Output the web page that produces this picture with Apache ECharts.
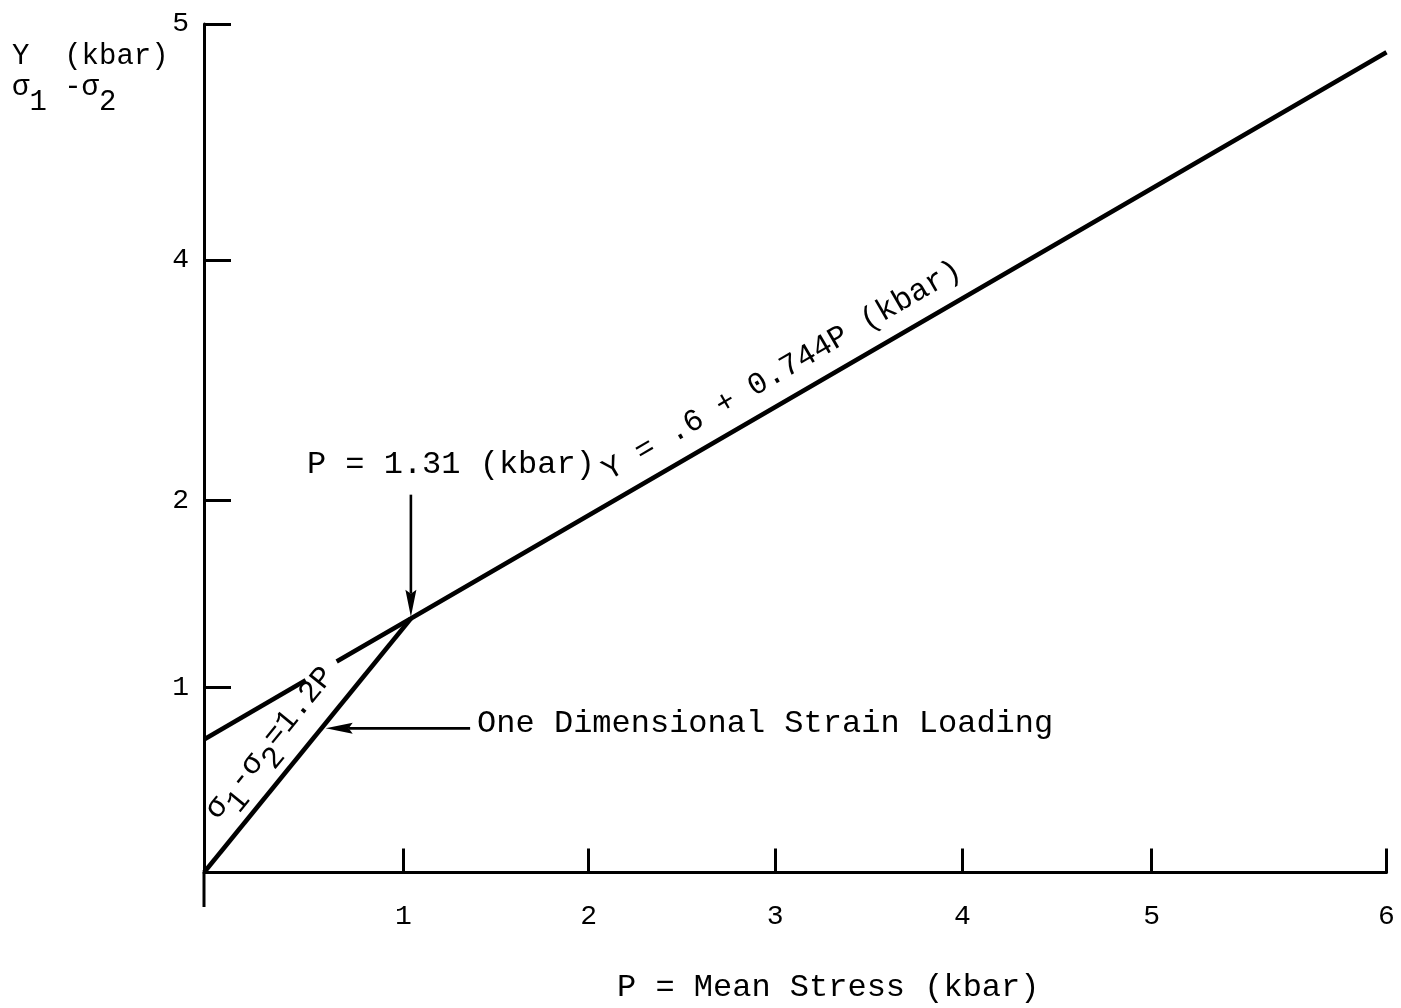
<!DOCTYPE html>
<html>
<head>
<meta charset="utf-8">
<script src="https://cdn.jsdelivr.net/npm/echarts@6/dist/echarts.min.js"></script>
<style>
  html, body { margin: 0; padding: 0; background: #fff; }
  #chart { width: 1401px; height: 1008px; }
</style>
</head>
<body>
<div id="chart"></div>
<script>
// ---- data (kbar) ----
const xTickLabels = [0, 1, 2, 3, 4, 5, 6];      // P = mean stress
const yTickLabels = [0, 1, 2, 4, 5];            // Y = sigma1 - sigma2

// yield envelope Y = .6 + 0.744P, interrupted where the loading-path label crosses it
const yieldLow  = [[0, 0.72], [0.51, 1.04]];
const yieldHigh = [[0.665, 1.14], [1.04, 1.37], [6, 4.88]];
// one dimensional strain loading path sigma1 - sigma2 = 1.2P
const loadingPath = [[0, 0], [1.04, 1.37]];
// arrows: [from P, from Y, to P, to Y]
const kneeArrow    = [1.04, 2.05, 1.04, 1.38];
const loadingArrow = [1.36, 0.78, 0.61, 0.78];

// ---- layout ----
// the hand-drawn axes are not evenly divided: where each tick sits, as a share of the axis
const xTickFrac = [0, 0.1687, 0.3252, 0.4829, 0.6414, 0.8013, 1];
const yTickFrac = [0, 0.2178, 0.4382, 0.7219, 1];
const yAxisTail = 34.5;       // vertical axis runs a little below the P axis (px)
const FONT = '"Liberation Mono", "Courier New", monospace';
const INK = '#000';

// piecewise scale between labelled ticks
function toFrac(v, labels, fracs) {
  let i = 1;
  while (i < labels.length - 1 && v > labels[i]) i++;
  const t = (v - labels[i - 1]) / (labels[i] - labels[i - 1]);
  return fracs[i - 1] + t * (fracs[i] - fracs[i - 1]);
}
const xf = p => toFrac(p, xTickLabels, xTickFrac);
const yf = y => toFrac(y, yTickLabels, yTickFrac);
const mapPts = pts => pts.map(([p, y]) => [xf(p), yf(y)]);
function labelAt(v, fracs, labels) {
  for (let i = 0; i < fracs.length; i++) if (Math.abs(fracs[i] - v) < 1e-6) return String(labels[i]);
  return '';
}

const chart = echarts.init(document.getElementById('chart'), null, { renderer: 'canvas' });

const lineSeries = (data) => ({
  type: 'line',
  data: mapPts(data),
  showSymbol: false,
  symbol: 'none',
  clip: false,
  lineStyle: { color: INK, width: 4.5 },
  z: 3
});

chart.setOption({
  animation: false,
  backgroundColor: '#fff',
  grid: { left: 204, right: 14.5, top: 24, bottom: 135.5, containLabel: false, outerBoundsMode: 'none', show: false },
  xAxis: {
    type: 'value', min: 0, max: 1,
    splitLine: { show: false },
    axisLine: { show: true, onZero: false, lineStyle: { color: INK, width: 3 } },
    axisTick: { show: true, inside: true, length: 24, customValues: xTickFrac.slice(1),
                lineStyle: { color: INK, width: 3 } },
    axisLabel: { show: true, customValues: xTickFrac.slice(1),
                 formatter: v => labelAt(v, xTickFrac, xTickLabels),
                 color: INK, fontFamily: FONT, fontSize: 28, margin: 30 }
  },
  yAxis: {
    type: 'value', min: 0, max: 1,
    splitLine: { show: false },
    axisLine: { show: true, onZero: false, lineStyle: { color: INK, width: 3 } },
    axisTick: { show: true, inside: true, length: 27, customValues: yTickFrac.slice(1),
                lineStyle: { color: INK, width: 3 } },
    axisLabel: { show: true, customValues: yTickFrac.slice(1),
                 formatter: v => labelAt(v, yTickFrac, yTickLabels),
                 color: INK, fontFamily: FONT, fontSize: 28, margin: 15 }
  },
  series: [
    lineSeries(yieldLow),
    lineSeries(yieldHigh),
    lineSeries(loadingPath),
    {
      type: 'custom',
      data: [kneeArrow, loadingArrow].map(a => [xf(a[0]), yf(a[1]), xf(a[2]), yf(a[3])]),
      encode: { x: [0, 2], y: [1, 3] },
      z: 4,
      renderItem(params, api) {
        const a = api.coord([api.value(0), api.value(1)]);
        const b = api.coord([api.value(2), api.value(3)]);
        const dx = b[0] - a[0], dy = b[1] - a[1];
        const len = Math.hypot(dx, dy);
        const ux = dx / len, uy = dy / len;
        const headLen = 27, half = 5.5, notch = 4;
        const base = [b[0] - ux * headLen, b[1] - uy * headLen];
        const back = [b[0] - ux * (headLen - notch), b[1] - uy * (headLen - notch)];
        const left = [base[0] - uy * half, base[1] + ux * half];
        const right = [base[0] + uy * half, base[1] - ux * half];
        return {
          type: 'group',
          children: [
            { type: 'line', shape: { x1: a[0], y1: a[1], x2: back[0], y2: back[1] },
              style: { stroke: INK, lineWidth: 2.6 } },
            { type: 'polygon', shape: { points: [b, left, back, right] },
              style: { fill: INK } }
          ]
        };
      }
    }
  ]
});

// ---- text annotations ----
const px = (p, y) => chart.convertToPixel({ gridIndex: 0 }, [xf(p), yf(y)]);

function textEl(text, x, y, size, extra) {
  return Object.assign({
    type: 'text', x, y, silent: true, z: 10,
    style: { text, font: size + 'px ' + FONT, fill: INK,
             align: 'left', verticalAlign: 'middle', textAlign: 'left', textVerticalAlign: 'middle' }
  }, extra || {});
}
// fixed-pitch runs with lowered subscript digits
function typedRun(segments, size, subDrop, startX) {
  const adv = size * 0.6;
  let cx = startX;
  return segments.map(s => {
    const el = textEl(s.t, cx, s.sub ? subDrop : 0, size);
    cx += s.t.length * adv;
    return el;
  });
}
function runWidth(segments, size) {
  return segments.reduce((n, s) => n + s.t.length, 0) * size * 0.6;
}
// place a label centred on a segment, lifted off it and turned to its slope
function alongSegment(a, b, t, lift) {
  const ang = Math.atan2(a[1] - b[1], b[0] - a[0]);
  return {
    x: a[0] + (b[0] - a[0]) * t - Math.sin(ang) * lift,
    y: a[1] + (b[1] - a[1]) * t - Math.cos(ang) * lift,
    rotation: ang
  };
}

const yieldText = 'Y = .6 + 0.744P (kbar)';
const pathLabel = [{ t: 'σ' }, { t: '1', sub: true }, { t: '-σ' }, { t: '2', sub: true }, { t: '=1.2P' }];
const yTitleSub = [{ t: 'σ' }, { t: '1', sub: true }, { t: ' -σ' }, { t: '2', sub: true }];

const knee = px(1.04, 1.37), yieldEnd = px(6, 4.88), origin = px(0, 0);
const kneeTail = px(kneeArrow[0], kneeArrow[1]);
const loadTail = px(loadingArrow[0], loadingArrow[1]);

const yieldPos = alongSegment(knee, yieldEnd, 0.395, 28);
const pathPos = alongSegment(origin, knee, 0.433, 31);
const annSize = 32, rotSize = 31;

chart.setOption({
  graphic: {
    elements: [
      // tail of the vertical axis below the P axis
      { type: 'line', silent: true, z: 2,
        shape: { x1: origin[0], y1: origin[1], x2: origin[0], y2: origin[1] + yAxisTail },
        style: { stroke: INK, lineWidth: 3 } },
      // vertical axis title
      textEl('Y  (kbar)', 12, 56, 29),
      { type: 'group', x: 0, y: 87, children: typedRun(yTitleSub, 29, 15, 12) },
      // horizontal axis title
      textEl('P = Mean Stress (kbar)', 617, 988, annSize),
      // knee annotation
      textEl('P = 1.31 (kbar)', kneeTail[0] - 104, kneeTail[1] - 30, annSize),
      // loading path annotation
      textEl('One Dimensional Strain Loading', loadTail[0] + 7, loadTail[1] - 5, annSize),
      // equation along the yield line
      textEl(yieldText, yieldPos.x, yieldPos.y, rotSize,
             { rotation: yieldPos.rotation,
               style: { text: yieldText, font: rotSize + 'px ' + FONT, fill: INK,
                        align: 'center', verticalAlign: 'middle', textAlign: 'center', textVerticalAlign: 'middle' } }),
      // equation along the loading path
      { type: 'group', x: pathPos.x, y: pathPos.y, rotation: pathPos.rotation,
        children: typedRun(pathLabel, rotSize, 13, -runWidth(pathLabel, rotSize) / 2) }
    ]
  }
});
</script>
</body>
</html>
